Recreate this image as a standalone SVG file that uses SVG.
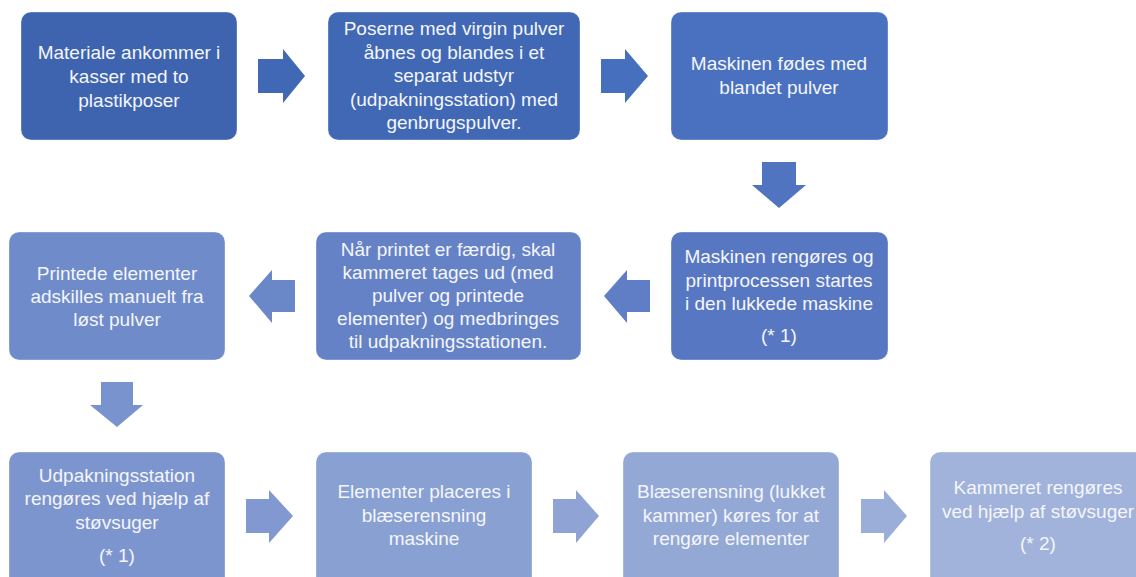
<svg xmlns="http://www.w3.org/2000/svg" width="1136" height="577" viewBox="0 0 1136 577">
<style>
.box{stroke:#ffffff;stroke-opacity:0.35;stroke-width:1}
.t{font-family:"Liberation Sans",Arial,sans-serif;font-size:19px;fill:#f4f6fb;text-anchor:middle}
</style>
<rect width="1136" height="577" fill="#ffffff"/>
<g id="connectors">
<polygon points="258,59 283,59 283,49 305,76 283,103 283,93 258,93" fill="#4068B4"/>
<polygon points="601,59 625,59 625,49 648,76 625,103 625,93 601,93" fill="#4670BD"/>
<polygon points="762,162 796,162 796,185 806,185 779,208 752,185 762,185" fill="#5074C0"/>
<polygon points="650,280 627,280 627,270 604,296 627,323 627,312 650,312" fill="#5F7EC5"/>
<polygon points="295,280 272,280 272,270 249,296 272,323 272,312 295,312" fill="#6A88C8"/>
<polygon points="101,382 133,382 133,405 143,405 117,427 90,405 101,405" fill="#7893CD"/>
<polygon points="246,499 269,499 269,490 293,516 269,543 269,533 246,533" fill="#8199D0"/>
<polygon points="553,499 576,499 576,490 599,516 576,543 576,533 553,533" fill="#8FA4D4"/>
<polygon points="861,499 884,499 884,490 907,516 884,543 884,533 861,533" fill="#9BAED9"/>
</g>
<g id="n1">
<rect class="box" x="21" y="12" width="216" height="128" rx="10" fill="#3E64B0"/>
<text class="t" x="129" y="59">Materiale ankommer i</text>
<text class="t" x="129" y="83">kasser med to</text>
<text class="t" x="129" y="107">plastikposer</text>
</g>
<g id="n2">
<rect class="box" x="328" y="12" width="252" height="128" rx="10" fill="#4168B5"/>
<text class="t" x="454" y="35">Poserne med virgin pulver</text>
<text class="t" x="454" y="59">åbnes og blandes i et</text>
<text class="t" x="454" y="82">separat udstyr</text>
<text class="t" x="454" y="106">(udpakningsstation) med</text>
<text class="t" x="454" y="129">genbrugspulver.</text>
</g>
<g id="n3">
<rect class="box" x="671" y="12" width="217" height="128" rx="10" fill="#4A71BF"/>
<text class="t" x="779" y="70">Maskinen fødes med</text>
<text class="t" x="779" y="94">blandet pulver</text>
</g>
<g id="n4">
<rect class="box" x="671" y="232" width="217" height="128" rx="10" fill="#5877C2"/>
<text class="t" x="779" y="263">Maskinen rengøres og</text>
<text class="t" x="779" y="287">printprocessen startes</text>
<text class="t" x="779" y="310">i den lukkede maskine</text>
<text class="t" x="779" y="342">(* 1)</text>
</g>
<g id="n5">
<rect class="box" x="316" y="232" width="265" height="128" rx="10" fill="#6682C7"/>
<text class="t" x="448" y="256">Når printet er færdig, skal</text>
<text class="t" x="448" y="279">kammeret tages ud (med</text>
<text class="t" x="448" y="302">pulver og printede</text>
<text class="t" x="448" y="325">elementer) og medbringes</text>
<text class="t" x="448" y="348">til udpakningsstationen.</text>
</g>
<g id="n6">
<rect class="box" x="9" y="232" width="216" height="128" rx="10" fill="#6F8BCA"/>
<text class="t" x="117" y="280">Printede elementer</text>
<text class="t" x="117" y="303">adskilles manuelt fra</text>
<text class="t" x="117" y="326">løst pulver</text>
</g>
<g id="n7">
<rect class="box" x="9" y="452" width="216" height="135" rx="10" fill="#7D95CE"/>
<text class="t" x="117" y="482">Udpakningsstation</text>
<text class="t" x="117" y="505">rengøres ved hjælp af</text>
<text class="t" x="117" y="529">støvsuger</text>
<text class="t" x="117" y="562">(* 1)</text>
</g>
<g id="n8">
<rect class="box" x="316" y="452" width="216" height="135" rx="10" fill="#89A0D3"/>
<text class="t" x="424" y="498">Elementer placeres i</text>
<text class="t" x="424" y="522">blæserensning</text>
<text class="t" x="424" y="545">maskine</text>
</g>
<g id="n9">
<rect class="box" x="623" y="452" width="216" height="135" rx="10" fill="#94A8D6"/>
<text class="t" x="731" y="498">Blæserensning (lukket</text>
<text class="t" x="731" y="522">kammer) køres for at</text>
<text class="t" x="731" y="545">rengøre elementer</text>
</g>
<g id="n10">
<rect class="box" x="930" y="452" width="216" height="135" rx="10" fill="#A1B2DB"/>
<text class="t" x="1038" y="494">Kammeret rengøres</text>
<text class="t" x="1038" y="518">ved hjælp af støvsuger</text>
<text class="t" x="1038" y="550">(* 2)</text>
</g>
</svg>
